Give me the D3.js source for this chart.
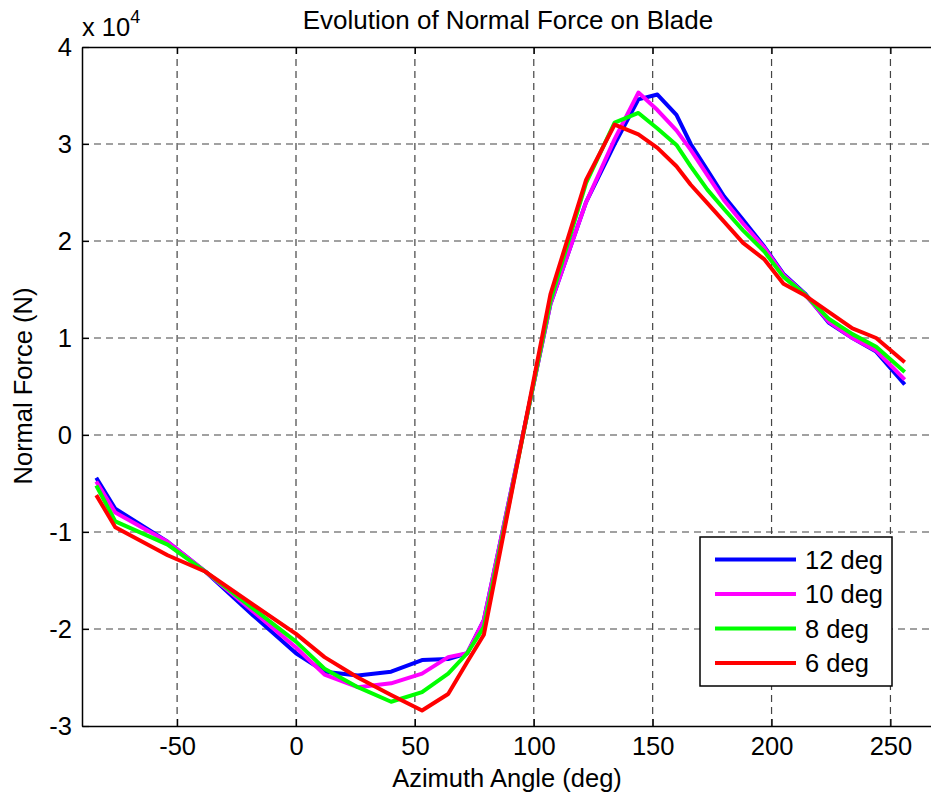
<!DOCTYPE html>
<html>
<head>
<meta charset="utf-8">
<script src="https://cdn.jsdelivr.net/npm/d3@7"></script>
<style>
  body { margin: 0; background: #fff; }
  text { font-family: "Liberation Sans", Arial, sans-serif; fill: #000; }
</style>
</head>
<body>
<div id="chart"></div>
<script>
var svgWidth = 931;
var svgHeight = 800;

var margin = { top: 47, right: -7, bottom: 74, left: 82 };
var width = svgWidth - margin.left - margin.right;
var height = svgHeight - margin.top - margin.bottom;

// azimuth angle (deg), shared by all series
var azimuth = [-84, -76, -54, -38, -18, 0, 12, 26, 40, 53, 64, 72, 79, 107, 122, 134, 144, 152, 160, 166, 173, 180, 188, 197, 205, 214, 224, 234, 244, 256];

// normal force, x 10^4 N
var force12 = [-0.44, -0.76, -1.10, -1.41, -1.86, -2.25, -2.44, -2.48, -2.44, -2.32, -2.31, -2.25, -1.91, 1.35, 2.40, 3.00, 3.46, 3.51, 3.30, 3.00, 2.73, 2.46, 2.22, 1.94, 1.66, 1.46, 1.16, 1.00, 0.86, 0.52];
var force10 = [-0.48, -0.80, -1.10, -1.41, -1.82, -2.19, -2.47, -2.60, -2.56, -2.46, -2.29, -2.25, -1.91, 1.35, 2.40, 3.05, 3.53, 3.35, 3.14, 2.94, 2.68, 2.42, 2.18, 1.93, 1.65, 1.45, 1.17, 1.00, 0.87, 0.57];
var force8 = [-0.52, -0.89, -1.13, -1.41, -1.79, -2.13, -2.41, -2.60, -2.75, -2.65, -2.46, -2.25, -1.98, 1.38, 2.60, 3.22, 3.32, 3.16, 2.99, 2.77, 2.53, 2.33, 2.11, 1.89, 1.63, 1.45, 1.20, 1.04, 0.91, 0.65];
var force6 = [-0.62, -0.95, -1.24, -1.41, -1.75, -2.05, -2.29, -2.50, -2.68, -2.84, -2.67, -2.34, -2.06, 1.45, 2.63, 3.20, 3.10, 2.96, 2.77, 2.58, 2.39, 2.20, 1.98, 1.81, 1.56, 1.44, 1.27, 1.10, 1.00, 0.75];

var seriesNames = ["12 deg", "10 deg", "8 deg", "6 deg"];
var seriesColors = ["#0000ff", "#ff00ff", "#00ff00", "#ff0000"];
var seriesValues = [force12, force10, force8, force6];

var xTicks = [-50, 0, 50, 100, 150, 200, 250];
var yTicks = [-3, -2, -1, 0, 1, 2, 3, 4];

var svg = d3.select("#chart")
  .append("svg")
  .attr("width", svgWidth)
  .attr("height", svgHeight);

var chart = svg.append("g")
  .attr("transform", `translate(${margin.left}, ${margin.top})`);

var xScale = d3.scaleLinear().domain([-90, 270]).range([0, width]);
var yScale = d3.scaleLinear().domain([-3, 4]).range([height, 0]);

// dashed grid
chart.append("g")
  .selectAll("line")
  .data(xTicks)
  .enter()
  .append("line")
  .attr("x1", d => xScale(d)).attr("x2", d => xScale(d))
  .attr("y1", 0).attr("y2", height)
  .attr("stroke", "#444")
  .attr("stroke-width", 1.2)
  .attr("stroke-dasharray", "7,5");

chart.append("g")
  .selectAll("line")
  .data(yTicks.filter(d => d > -3 && d < 4))
  .enter()
  .append("line")
  .attr("x1", 0).attr("x2", width)
  .attr("y1", d => yScale(d)).attr("y2", d => yScale(d))
  .attr("stroke", "#444")
  .attr("stroke-width", 1.2)
  .attr("stroke-dasharray", "7,5");

// axes, ticks pointing inwards, plain hyphen for negatives
var plain = d => String(d);
var bottomAxis = d3.axisBottom(xScale).tickValues(xTicks).tickFormat(plain).tickSizeInner(-7).tickSizeOuter(0).tickPadding(11);
var leftAxis = d3.axisLeft(yScale).tickValues(yTicks).tickFormat(plain).tickSizeInner(-7).tickSizeOuter(0).tickPadding(10);
var topAxis = d3.axisTop(xScale).tickValues(xTicks).tickSizeInner(-7).tickSizeOuter(0).tickFormat("");

var gx = chart.append("g").attr("transform", `translate(0, ${height})`).call(bottomAxis);
var gy = chart.append("g").call(leftAxis);
var gt = chart.append("g").call(topAxis);

[gx, gy, gt].forEach(function(g) {
  g.select(".domain").attr("stroke", "#000").attr("stroke-width", 1.5);
  g.selectAll(".tick line").attr("stroke", "#000").attr("stroke-width", 1.2);
  g.selectAll(".tick text")
    .attr("font-size", "25.5")
    .attr("font-family", "Liberation Sans, Arial, sans-serif")
    .attr("fill", "#000");
});

// data lines
var line = d3.line()
  .x((d, i) => xScale(azimuth[i]))
  .y(d => yScale(d));

chart.append("g")
  .selectAll("path")
  .data(seriesValues)
  .enter()
  .append("path")
  .attr("d", d => line(d))
  .attr("fill", "none")
  .attr("stroke", (d, i) => seriesColors[i])
  .attr("stroke-width", 4)
  .attr("stroke-linejoin", "round");

// labels
svg.append("text")
  .attr("x", 508)
  .attr("y", 29)
  .attr("text-anchor", "middle")
  .attr("font-size", "26")
  .text("Evolution of Normal Force on Blade");

svg.append("text")
  .attr("x", 507)
  .attr("y", 787)
  .attr("text-anchor", "middle")
  .attr("font-size", "25.5")
  .text("Azimuth Angle (deg)");

svg.append("text")
  .attr("transform", "rotate(-90)")
  .attr("x", -386)
  .attr("y", 32)
  .attr("text-anchor", "middle")
  .attr("font-size", "25.5")
  .text("Normal Force (N)");

var expo = svg.append("text")
  .attr("x", 82)
  .attr("y", 36)
  .attr("font-size", "25.5")
  .text("x 10");
expo.append("tspan")
  .attr("dy", -13)
  .attr("font-size", "18")
  .text("4");

// legend
var legend = svg.append("g");
legend.append("rect")
  .attr("x", 700).attr("y", 537)
  .attr("width", 192).attr("height", 149)
  .attr("fill", "#fff")
  .attr("stroke", "#000")
  .attr("stroke-width", 1.5);

var legendRows = legend.selectAll("g.row")
  .data(seriesNames)
  .enter()
  .append("g")
  .attr("class", "row")
  .attr("transform", (d, i) => `translate(0, ${559.5 + i * 34.5})`);

legendRows.append("line")
  .attr("x1", 715).attr("x2", 796)
  .attr("y1", 0).attr("y2", 0)
  .attr("stroke", (d, i) => seriesColors[i])
  .attr("stroke-width", 4);

legendRows.append("text")
  .attr("x", 805)
  .attr("y", 0)
  .attr("dy", "0.36em")
  .attr("font-size", "25.5")
  .text(d => d);
</script>
</body>
</html>
